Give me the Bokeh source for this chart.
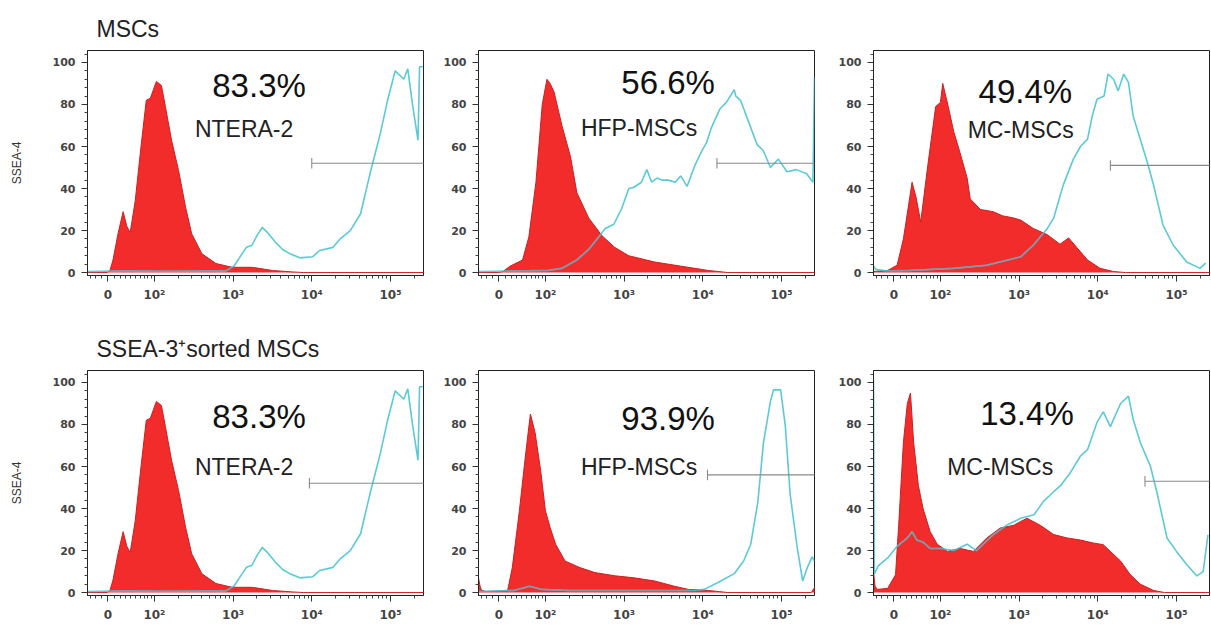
import numpy as np
from bokeh.plotting import figure
from bokeh.models import Range1d, FixedTicker, Label
from bokeh.layouts import row, column
from bokeh.embed import file_html
from bokeh.resources import INLINE

# ---------------- data (x in axis decades: 10^2 -> 2, 10^3 -> 3 ...; y = % of max) -------------
x_tick_labels = ["0", "10²", "10³", "10⁴", "10⁵"]
y_ticks = [0, 20, 40, 60, 80, 100]
row_titles = ["MSCs", "SSEA-3⁺sorted MSCs"]
cell_names = ["NTERA-2", "HFP-MSCs", "MC-MSCs", "NTERA-2", "HFP-MSCs", "MC-MSCs"]
percents = ["83.3%", "56.6%", "49.4%", "83.3%", "93.9%", "13.4%"]

ntera_red_x = [1.15, 1.40, 1.436, 1.474, 1.538, 1.603, 1.65, 1.692, 1.756, 1.833, 1.897, 1.949, 1.987,
               2.026, 2.09, 2.14, 2.218, 2.308, 2.397, 2.474, 2.603, 2.782, 2.987, 3.244, 3.5, 3.756, 3.9, 5.42]
ntera_red_y = [0, 0, 1, 6, 18.5, 29, 22, 19, 34, 61, 82, 83, 87,
               91, 89, 79, 63, 48.5, 31, 18.5, 9, 4.3, 2.5, 2.5, 1, 0.3, 0, 0]
ntera_cyan_x = [1.15, 1.6, 2.2, 2.91, 3.01, 3.08, 3.17, 3.24, 3.31, 3.37, 3.44, 3.55, 3.63, 3.72, 3.85,
                4.01, 4.10, 4.27, 4.36, 4.49, 4.62, 4.74, 4.87, 4.97, 5.06, 5.17, 5.22, 5.28, 5.35, 5.37, 5.41]
ntera_cyan_y = [0.5, 0.8, 0.6, 0.8, 3, 7, 12, 13, 18, 21.5, 19, 14, 11, 9, 7,
                7.5, 10.5, 12, 16, 20, 28, 47, 66, 83, 96, 92, 97, 80, 63, 98, 98]

hfp1_red_x = [1.15, 1.40, 1.46, 1.55, 1.71, 1.79, 1.88, 1.96, 2.02, 2.06, 2.11, 2.21, 2.32, 2.40,
              2.55, 2.72, 2.88, 3.06, 3.39, 3.73, 4.07, 4.32, 5.45]
hfp1_red_y = [0, 0, 0.5, 3, 6, 17, 43, 80, 92, 90, 86, 70, 55, 38,
              26, 17.5, 12, 8, 5, 3, 1, 0, 0]
hfp1_cyan_x = [1.15, 1.6, 2.03, 2.21, 2.40, 2.55, 2.68, 2.76, 2.87, 2.97, 3.06, 3.12, 3.22, 3.29, 3.35,
               3.42, 3.48, 3.56, 3.65, 3.72, 3.80, 3.90, 3.99, 4.05, 4.11, 4.22, 4.30, 4.40, 4.42, 4.48,
               4.59, 4.69, 4.77, 4.86, 4.96, 5.07, 5.19, 5.32, 5.40, 5.42]
hfp1_cyan_y = [0.5, 0.8, 1, 2, 6, 11, 17, 21, 23, 30.5, 40, 40.5, 43, 49, 43,
               45, 44, 44, 43, 46, 41, 51, 58, 62, 69, 78, 81, 87, 84, 82,
               71, 61, 58, 50, 54, 48, 49, 47, 43, 93]

mc1_red_x = [1.15, 1.33, 1.45, 1.53, 1.62, 1.64, 1.69, 1.75, 1.84, 1.94, 2.00, 2.03, 2.10, 2.17, 2.25,
             2.34, 2.38, 2.51, 2.67, 2.79, 2.93, 3.02, 3.18, 3.36, 3.52, 3.63, 3.72, 3.87, 4.03, 4.20,
             4.35, 5.45]
mc1_red_y = [0.5, 1, 3.5, 16, 38, 43, 36, 24, 51, 79, 81, 90, 79, 67, 57,
             45, 35, 30, 29, 27, 26, 25, 21, 18, 13.5, 16.5, 12.5, 6, 2, 0.5,
             0, 0]
mc1_cyan_x = [1.15, 1.18, 1.3, 1.6, 2.17, 2.59, 3.02, 3.18, 3.36, 3.44, 3.56, 3.69, 3.78, 3.87, 3.93,
              3.99, 4.08, 4.13, 4.20, 4.26, 4.33, 4.39, 4.45, 4.54, 4.63, 4.71, 4.83, 4.96, 5.13, 5.30, 5.37]
mc1_cyan_y = [3, 1.5, 0.8, 1, 2, 3.5, 7.5, 13, 21, 26, 41.5, 54, 60, 63.5, 74.5,
              82.5, 84, 94.5, 92, 86.5, 94.5, 90.5, 74.5, 63.5, 52.5, 41.5, 22.5, 13, 5, 2, 4.5]

hfp2_red_x = [1.15, 1.17, 1.19, 1.25, 1.45, 1.52, 1.58, 1.67, 1.74, 1.79, 1.81, 1.87, 1.94, 2.00,
              2.06, 2.13, 2.25, 2.43, 2.63, 2.88, 3.13, 3.39, 3.64, 3.82, 4.07, 4.32, 5.38, 5.43]
hfp2_red_y = [7, 3, 1, 0.5, 0.8, 1, 12, 39, 63, 79, 85, 76, 58, 39,
              31, 23, 15, 12, 9.5, 8, 7, 5.5, 3, 1.5, 1, 0, 0, 3]
hfp2_cyan_x = [1.15, 1.6, 1.8, 1.95, 2.3, 3.0, 3.9, 4.02, 4.23, 4.40, 4.52, 4.61, 4.70, 4.77, 4.86,
               4.90, 4.99, 5.05, 5.11, 5.20, 5.27, 5.33, 5.39, 5.42]
hfp2_cyan_y = [0.5, 1, 3, 1.5, 1, 1, 1, 1.5, 5.5, 9, 15, 23, 43, 71, 91,
               96.5, 96.5, 79, 47, 21.5, 5.5, 12, 17, 15]

mc2_red_x = [1.15, 1.17, 1.20, 1.33, 1.43, 1.47, 1.53, 1.58, 1.62, 1.66, 1.72, 1.78, 1.87, 1.96,
             2.09, 2.25, 2.42, 2.59, 2.76, 2.93, 3.10, 3.27, 3.44, 3.61, 3.78, 3.94, 4.07, 4.16,
             4.29, 4.41, 4.54, 4.71, 4.85, 5.45]
mc2_red_y = [10, 3, 1.5, 2, 8.5, 32, 71.5, 90, 95, 71.5, 51, 40, 29, 23,
             19.6, 21, 19.6, 26, 30.7, 32, 35.4, 32, 27.6, 26, 25, 23.6, 22.8, 19.6,
             15, 8.7, 4, 1, 0, 0]
mc2_cyan_x = [1.15, 1.16, 1.21, 1.33, 1.45, 1.58, 1.64, 1.70, 1.78, 1.87, 2.00, 2.17, 2.34, 2.46, 2.67,
              2.84, 3.02, 3.19, 3.31, 3.44, 3.53, 3.65, 3.78, 3.87, 3.99, 4.07, 4.16, 4.29, 4.39,
              4.45, 4.54, 4.67, 4.75, 4.88, 5.00, 5.13, 5.26, 5.34, 5.40]
mc2_cyan_y = [101, 8.7, 12.7, 16.5, 22, 26, 29, 25, 24, 21, 21, 20, 23, 20, 27.5,
              32, 35.4, 37, 43.4, 48, 51, 57, 65, 68, 81, 86, 79, 90, 93.5,
              82.5, 71.5, 60, 48, 26, 19.6, 13.4, 7.9, 10, 27.5]

gate_starts = [4.0, 4.18, 4.16, 3.97, 4.06, 4.6]
gate_levels = [52, 52, 51, 52, 56, 53]

red_xs = [ntera_red_x, hfp1_red_x, mc1_red_x, ntera_red_x, hfp2_red_x, mc2_red_x]
red_ys = [ntera_red_y, hfp1_red_y, mc1_red_y, ntera_red_y, hfp2_red_y, mc2_red_y]
cyan_xs = [ntera_cyan_x, hfp1_cyan_x, mc1_cyan_x, ntera_cyan_x, hfp2_cyan_x, mc2_cyan_x]
cyan_ys = [ntera_cyan_y, hfp1_cyan_y, mc1_cyan_y, ntera_cyan_y, hfp2_cyan_y, mc2_cyan_y]

# ---------------- layout / style -------------
FONT = "Liberation Sans"
TICK_FONT = "DejaVu Sans"
RED = "#f22b2b"
RED_EDGE = "#cc2020"
CYAN = "#3fc0d0"
CYAN_ON_RED = "#8a96a6"

# text anchors (x, y) in data units per panel
pct_pos = [(3.33, 89), (3.56, 90.5), (3.08, 86), (3.33, 84), (3.56, 83), (3.10, 85)]
name_pos = [(3.14, 68.5), (3.19, 69), (3.02, 68), (3.14, 60), (3.19, 60), (2.76, 60)]

X_START = 1.15
X_END = 5.42
FRAME_W = 336
FRAME_H = 225
col_cfg = [  # border_left, border_right
    (87, 10),
    (45, 14),
    (45, 1),
]
row_cfg = [  # border_top, border_bottom
    (50, 43),
    (52, 30),
]


def logicle_pos(v):
    return 2 + (np.arcsinh(np.asarray(v, dtype=float) / 55.0) - np.arcsinh(100 / 55.0)) / np.log(10)


zero_pos = 1.41
major_x = [zero_pos, 2, 3, 4, 5]
minor_x = [float(v) for v in logicle_pos([-30, -20, -10, 10, 20, 30, 40, 50, 60, 70, 80, 90])]
for d in (2, 3, 4):
    for k in range(2, 10):
        minor_x.append(float(np.log10(k * 10 ** d)))
minor_x.append(float(np.log10(2e5)))
minor_y = [v for v in range(4, 105, 4) if v % 20 != 0]


def make_panel(i):
    r, c = divmod(i, 3)
    bl, br = col_cfg[c]
    bt, bb = row_cfg[r]
    p = figure(frame_width=FRAME_W, frame_height=FRAME_H, output_backend="svg", toolbar_location=None,
               x_range=Range1d(X_START, X_END), y_range=Range1d(-1.4, 105.7),
               min_border_left=bl, min_border_right=br, min_border_top=bt, min_border_bottom=bb,
               background_fill_color="white", border_fill_color="white")
    p.grid.visible = False
    p.outline_line_color = "#222222"
    p.outline_line_width = 1

    # red filled histogram
    rx, ry = red_xs[i], red_ys[i]
    p.varea(x=rx, y1=[0] * len(rx), y2=ry, fill_color=RED, fill_alpha=1.0)
    p.line(rx, ry, line_color=RED_EDGE, line_width=1)
    # cyan histogram
    cx, cy = cyan_xs[i], cyan_ys[i]
    p.line(cx, cy, line_color=CYAN, line_width=1.6, line_alpha=0.85)
    # portion of the cyan trace lying inside the red area appears greyish
    fx = np.linspace(cx[0], cx[-1], 1500)
    fcy = np.interp(fx, cx, cy)
    fry = np.interp(fx, rx, ry)
    inside = np.where(fcy < fry - 0.5, fcy, np.nan)
    p.line(fx, inside, line_color=CYAN_ON_RED, line_width=1.6)

    # gate marker
    gx, gy = gate_starts[i], gate_levels[i]
    p.segment(x0=[gx], y0=[gy], x1=[X_END + 1], y1=[gy], line_color="#8a8a8a", line_width=1.1)
    p.segment(x0=[gx], y0=[gy - 2.5], x1=[gx], y1=[gy + 2.5], line_color="#8a8a8a", line_width=1.1)

    px, py = pct_pos[i]
    p.add_layout(Label(x=px, y=py, text=percents[i], text_font=FONT, text_font_size="33px",
                       text_align="center", text_baseline="middle", text_color="#111111"))
    nx, ny = name_pos[i]
    p.add_layout(Label(x=nx, y=ny, text=cell_names[i], text_font=FONT, text_font_size="23px",
                       text_align="center", text_baseline="middle", text_color="#222222"))

    # axes
    p.xaxis.ticker = FixedTicker(ticks=major_x, minor_ticks=minor_x)
    p.xaxis.major_label_overrides = {t: lab for t, lab in zip(major_x, x_tick_labels)}
    p.yaxis.ticker = FixedTicker(ticks=y_ticks, minor_ticks=minor_y)
    for ax in (p.xaxis[0], p.yaxis[0]):
        ax.axis_line_color = "#222222"
        ax.major_tick_line_color = "#333333"
        ax.minor_tick_line_color = "#444444"
        ax.major_tick_in = 0
        ax.minor_tick_in = 0
        ax.major_tick_out = 6
        ax.minor_tick_out = 3
        ax.major_label_text_font = TICK_FONT
        ax.major_label_text_font_size = "11px"
        ax.major_label_text_font_style = "bold"
        ax.major_label_text_color = "#444444"
    p.xaxis.major_label_text_font_size = "12px"
    p.xaxis.major_label_standoff = 6
    p.yaxis.major_label_standoff = 6

    if c == 0:
        p.yaxis.axis_label = "SSEA-4"
        p.yaxis.axis_label_text_font = FONT
        p.yaxis.axis_label_text_font_size = "12px"
        p.yaxis.axis_label_text_font_style = "normal"
        p.yaxis.axis_label_text_color = "#333333"
        p.yaxis.axis_label_standoff = 26
        p.title.text = row_titles[r]
        p.title.text_font = FONT
        p.title.text_font_size = "23px"
        p.title.text_font_style = "normal"
        p.title.text_color = "#222222"
        p.title.align = "left"
        p.title.offset = 9
        p.title.standoff = 18
    return p


panels = [make_panel(i) for i in range(6)]
layout = column(row(*panels[:3], spacing=0), row(*panels[3:], spacing=0), spacing=0)

open("out.html", "w").write(file_html(layout, INLINE))
